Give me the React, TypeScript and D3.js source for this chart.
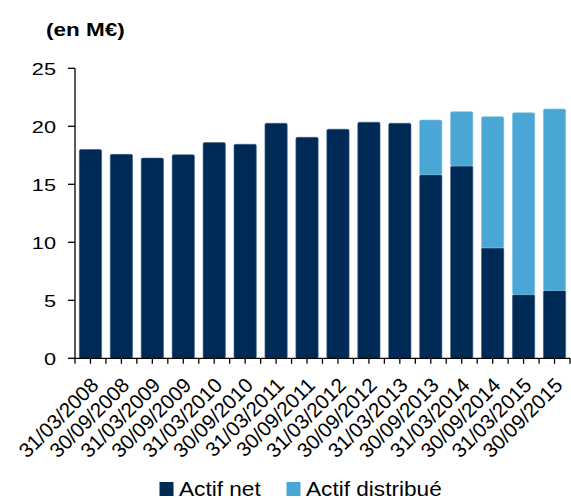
import React from "react";
import * as d3 from "d3";

const categories = [
  "31/03/2008", "30/09/2008", "31/03/2009", "30/09/2009", "31/03/2010", "30/09/2010",
  "31/03/2011", "30/09/2011", "31/03/2012", "30/09/2012", "31/03/2013", "30/09/2013",
  "31/03/2014", "30/09/2014", "31/03/2015", "30/09/2015",
];
const actifNet = [18.0, 17.58, 17.26, 17.55, 18.6, 18.45, 20.26, 19.05, 19.75, 20.35, 20.26, 15.83, 16.58, 9.52, 5.49, 5.84];
const actifTotal = [18.0, 17.58, 17.26, 17.55, 18.6, 18.45, 20.26, 19.05, 19.75, 20.35, 20.26, 20.54, 21.26, 20.83, 21.17, 21.49];
const actifDistribue = actifTotal.map((t, i) => +(t - actifNet[i]).toFixed(2));
const yTicks = [0, 5, 10, 15, 20, 25];
const seriesNames = ["Actif net", "Actif distribué"];
const colors = ["#002A56", "#4AA6D4"];

const W = 571, H = 498;
const left = 75, right = 570, top = 68.3, bottom = 358.3;
const font = "'Liberation Sans', Arial, sans-serif";

export default function App() {
  const x = d3.scaleBand<string>().domain(categories).range([left, right]).paddingInner(0.28).paddingOuter(0.14);
  const y = d3.scaleLinear().domain([0, 25]).range([bottom, top]);
  const step = x.step();
  const data = categories.map((c, i) => ({ c, net: actifNet[i], dist: actifDistribue[i] }));
  const stack = d3.stack<any>().keys(["net", "dist"])(data);

  const xTickPos: number[] = [];
  for (let i = 0; i <= categories.length; i++) {
    xTickPos.push(left + i * step);
    if (i < categories.length) xTickPos.push(left + (i + 0.5) * step);
  }

  return (
    <svg width={W} height={H} style={{ position: "absolute", left: 0, top: 0 }} fontFamily={font}>
      <text transform={`translate(46,36) scale(1.25,1)`} fontSize={18} fontWeight="bold" fill="#000">(en M€)</text>
      {stack.map((s, si) => (
        <g key={si} fill={colors[si]}>
          {s.map((d, i) => {
            const h = y(d[0]) - y(d[1]);
            if (h <= 0.01) return null;
            return (
              <rect key={i} x={x(categories[i])} y={y(d[1])} width={x.bandwidth()} height={h}
                rx={1.5} stroke={si === 0 ? "#3d5f82" : "#7fc0e3"} strokeWidth={0.6} />
            );
          })}
        </g>
      ))}
      <line x1={left} x2={left} y1={top} y2={bottom} stroke="#000" strokeWidth={1.3} />
      {yTicks.map((t) => (
        <g key={t}>
          <line x1={left - 7} x2={left} y1={y(t)} y2={y(t)} stroke="#000" strokeWidth={1.3} />
          <text transform={`translate(56,${y(t) + 1}) scale(1.28,1)`} textAnchor="end" dy="0.36em" fontSize={17} fill="#000">{t}</text>
        </g>
      ))}
      <line x1={left} x2={right} y1={bottom} y2={bottom} stroke="#000" strokeWidth={1.3} />
      {xTickPos.map((p, i) => (
        <line key={i} x1={p} x2={p} y1={bottom} y2={bottom + 5.5} stroke="#000" strokeWidth={1.3} />
      ))}
      {categories.map((c) => {
        const cx = (x(c) as number) + x.bandwidth() / 2;
        return (
          <text key={c} transform={`translate(${cx + 4},${bottom + 23}) rotate(-45)`} textAnchor="end" dy="0.36em" fontSize={20.5} fill="#000">{c}</text>
        );
      })}
      {seriesNames.map((n, i) => {
        const lx = i === 0 ? 159.5 : 286.5;
        return (
          <g key={n}>
            <rect x={lx} y={482} width={14} height={14} fill={colors[i]} />
            <text transform={`translate(${lx + 19.5},495.5) scale(1.16,1)`} fontSize={19.5} fill="#000">{n}</text>
          </g>
        );
      })}
    </svg>
  );
}
